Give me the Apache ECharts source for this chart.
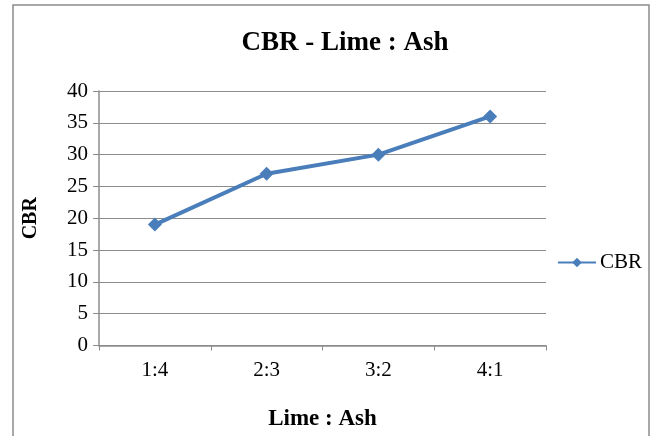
<!DOCTYPE html>
<html>
<head>
<meta charset="utf-8">
<script src="https://cdn.jsdelivr.net/npm/echarts@6/dist/echarts.min.js"></script>
<style>
  html, body { margin: 0; padding: 0; background: #fff; }
  #chart { width: 658px; height: 436px; }
</style>
</head>
<body>
<div id="chart"></div>
<script>
// Lime : Ash mix ratios and the CBR measured for each
const ratios = ['1:4', '2:3', '3:2', '4:1'];
const cbrValues = [19, 27, 30, 36];
const seriesName = 'CBR';

const serif = '"Liberation Serif", "Times New Roman", serif';
const chart = echarts.init(document.getElementById('chart'));

chart.setOption({
  backgroundColor: '#fff',
  animation: false,
  graphic: [{
    type: 'rect',
    shape: { x: 13, y: 5, width: 636, height: 440 },
    style: { fill: 'none', stroke: '#8c8c8c', lineWidth: 1.5 },
    silent: true
  }],
  title: {
    text: 'CBR - Lime : Ash',
    left: 340,
    textAlign: 'center',
    top: 25,
    textStyle: { fontFamily: serif, fontSize: 27, fontWeight: 'bold', color: '#000' }
  },
  legend: {
    data: [seriesName],
    left: 552,
    top: 247,
    itemWidth: 38,
    itemHeight: 12,
    itemGap: 4,
    textStyle: { fontFamily: serif, fontSize: 21, color: '#000', padding: [0, 0, 0, -1] }
  },
  grid: { left: 99, right: 112, top: 91, bottom: 90.5, containLabel: false },
  xAxis: {
    type: 'category',
    data: ratios,
    boundaryGap: true,
    name: 'Lime : Ash',
    nameLocation: 'middle',
    nameGap: 62,
    nameTextStyle: { fontFamily: serif, fontSize: 23, fontWeight: 'bold', color: '#000' },
    axisLine: { lineStyle: { color: '#8c8c8c', width: 1.5 } },
    axisTick: { show: true, length: 5, lineStyle: { color: '#8c8c8c' } },
    axisLabel: { fontFamily: serif, fontSize: 21, color: '#000', margin: 14 }
  },
  yAxis: {
    type: 'value',
    min: 0,
    max: 40,
    interval: 5,
    name: 'CBR',
    nameLocation: 'middle',
    nameGap: 58,
    nameRotate: 90,
    nameTextStyle: { fontFamily: serif, fontSize: 20, fontWeight: 'bold', color: '#000' },
    axisLine: { show: true, lineStyle: { color: '#8c8c8c', width: 1.5 } },
    axisTick: { show: true, length: 6, lineStyle: { color: '#8c8c8c' } },
    axisLabel: { fontFamily: serif, fontSize: 21, color: '#000', margin: 11 },
    splitLine: { show: true, lineStyle: { color: '#8c8c8c', width: 1.2 } }
  },
  series: [{
    name: seriesName,
    type: 'line',
    data: cbrValues,
    symbol: 'diamond',
    symbolSize: 14,
    lineStyle: { color: '#4a7ebb', width: 4 },
    itemStyle: { color: '#4a7ebb' }
  }]
});
</script>
</body>
</html>
